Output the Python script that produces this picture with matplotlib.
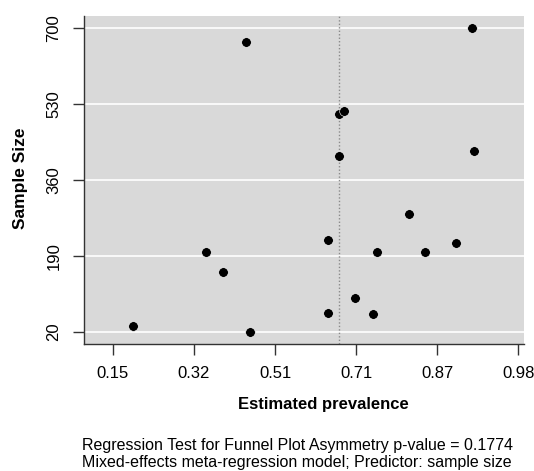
import numpy as np
import matplotlib
matplotlib.use("Agg")
import matplotlib.pyplot as plt

plt.rcParams['font.family'] = ['Liberation Sans', 'DejaVu Sans']

# Study-level estimates: prevalence vs. sample size
prevalence = [0.192, 0.340, 0.375, 0.423, 0.430, 0.591, 0.590, 0.613, 0.624,
              0.614, 0.646, 0.683, 0.690, 0.756, 0.789, 0.853, 0.885, 0.890]
sample_size = [33, 200, 154, 669, 20, 225, 62, 507, 514,
               413, 96, 60, 200, 284, 200, 220, 700, 426]

pooled_estimate = 0.614

x_tick_labels = ["0.15", "0.32", "0.51", "0.71", "0.87", "0.98"]
x_tick_pos = np.linspace(0.15, 0.98, len(x_tick_labels))
y_ticks = [20, 190, 360, 530, 700]

footer_lines = [
    "Regression Test for Funnel Plot Asymmetry p-value = 0.1774",
    "Mixed-effects meta-regression model; Predictor: sample size",
]

W, H = 534, 471
fig = plt.figure(figsize=(W / 100, H / 100), dpi=100)
fig.patch.set_facecolor("white")

left, right, top, bottom = 83.5, 524, 16, 344
ax = fig.add_axes([left / W, 1 - bottom / H, (right - left) / W, (bottom - top) / H])
ax.set_facecolor("#d9d9d9")

ax.set_xlim(0.090, 0.9917)
ax.set_ylim(-6.9, 727.5)

for yv in y_ticks:
    ax.axhline(yv, color="white", lw=1.2, zorder=1)

ax.axvline(pooled_estimate, color="#8a8a8a", lw=1.0, ls=(0, (1, 1.5)), zorder=2)

ax.scatter(prevalence, sample_size, s=48, c="black", edgecolors="white",
           linewidths=0.4, zorder=3)

for side in ("top", "right"):
    ax.spines[side].set_visible(False)
for side in ("left", "bottom"):
    ax.spines[side].set_color("#333333")
    ax.spines[side].set_linewidth(1.0)

ax.set_xticks(x_tick_pos)
ax.set_xticklabels(x_tick_labels, fontsize=12)
ax.set_yticks(y_ticks)
ax.set_yticklabels([str(v) for v in y_ticks], fontsize=12, rotation=90, va="center")
ax.tick_params(axis="both", length=8, width=1.0, color="#333333", pad=8)

fig.text(323 / W, 1 - 405 / H, "Estimated prevalence", ha="center", va="center",
         fontsize=12, fontweight="bold")
fig.text(21 / W, 1 - 178 / H, "Sample Size", ha="center", va="center",
         rotation=90, fontsize=12.5, fontweight="bold")

for i, line in enumerate(footer_lines):
    fig.text(297 / W, 1 - (450 + 17 * i) / H, line, ha="center", va="baseline",
             fontsize=11.5)

fig.savefig("out.png", dpi=100)
